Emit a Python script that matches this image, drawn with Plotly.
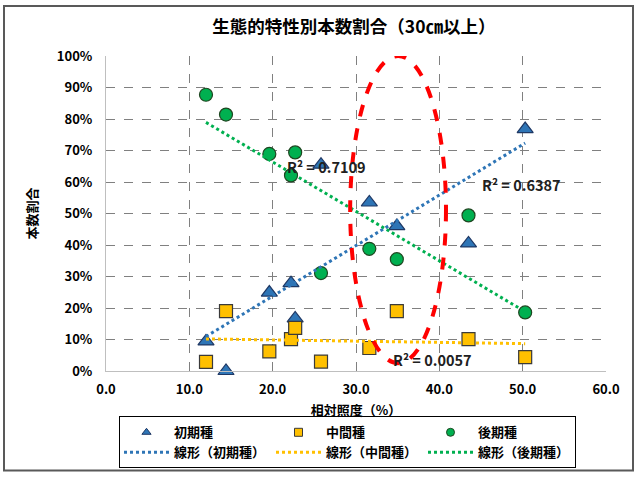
import numpy as np
import plotly.graph_objects as go

# ---- data ----
x_light = [12.0, 14.4, 19.6, 22.2, 22.7, 25.8, 31.6, 34.9, 43.5, 50.3]
early = [0.094, 0.000, 0.249, 0.279, 0.167, 0.655, 0.535, 0.460, 0.405, 0.768]
middle = [0.029, 0.190, 0.062, 0.101, 0.137, 0.030, 0.073, 0.190, 0.101, 0.044]
late = [0.877, 0.814, 0.689, 0.621, 0.694, 0.311, 0.388, 0.355, 0.494, 0.186]

names = ["初期種", "中間種", "後期種"]
trend_names = ["線形（初期種）", "線形（中間種）", "線形（後期種）"]
r2_labels = ["R² = 0.6387", "R² = 0.0057", "R² = 0.7109"]
r2_pos = [(49.9, 0.592), (39.2, 0.038), (26.5, 0.649)]

x_ticks = [0, 10, 20, 30, 40, 50, 60]
y_ticks = [i / 10 for i in range(11)]

FONT = "Noto Sans CJK JP"
fills = ["#2E75B6", "#FFC000", "#00B050"]
edges = ["#1F3864", "#3A3A3A", "#1E4620"]
symbols = ["triangle-up", "square", "circle"]
sizes = [14, 13, 13]

fig = go.Figure()
series = [early, middle, late]
for s, n, fc, ec, sym, sz in zip(series, names, fills, edges, symbols, sizes):
    fig.add_trace(go.Scatter(
        x=x_light, y=s, mode="markers", name=n, cliponaxis=False, showlegend=False,
        legendgroup=n,
        marker=dict(symbol=sym, size=sz, color=fc,
                    line=dict(color=ec, width=1.2)),
    ))

# legend-only entries with small symbols (as in the reference legend)
for n, fc, ec, sym in zip(names, fills, edges, symbols):
    fig.add_trace(go.Scatter(
        x=[None], y=[None], mode="markers", name=n, legendgroup=n,
        marker=dict(symbol=sym, size=8, color=fc, line=dict(color=ec, width=1)),
    ))

xs = np.array(x_light)
xfit = np.array([xs.min(), xs.max()])
for s, n, fc in zip(series, trend_names, fills):
    k, b = np.polyfit(xs, np.array(s), 1)
    fig.add_trace(go.Scatter(
        x=xfit, y=k * xfit + b, mode="lines", name=n,
        line=dict(color=fc, width=3, dash="dot"),
    ))

for t, (ax, ay) in zip(r2_labels, r2_pos):
    fig.add_annotation(x=ax, y=ay, text=t, showarrow=False,
                       font=dict(family=FONT, size=14.5, color="#202020", weight="bold"))

# red dashed ellipse
fig.add_shape(type="circle", xref="x", yref="y", x0=29.3, x1=40.8, y0=0.025, y1=1.0,
              line=dict(color="#FF0000", width=4, dash="dash"))

# outer chart border
fig.add_shape(type="rect", xref="paper", yref="paper", x0=-0.204, x1=1.054,
              y0=-0.316, y1=1.159, line=dict(color="#595959", width=2))

fig.update_layout(
    width=640, height=480,
    margin=dict(l=106, r=34, t=56, b=105),
    paper_bgcolor="white", plot_bgcolor="white",
    font=dict(family=FONT, size=13, color="#000000"),
    title=dict(text="<b>生態的特性別本数割合（30㎝以上）</b>", x=0.553, xanchor="center",
               y=0.944, yanchor="middle", font=dict(family=FONT, size=17.5, color="#000000")),
    xaxis=dict(range=[0, 60], tickvals=x_ticks, tickformat=".1f", automargin=False,
               showgrid=True, gridcolor="#808080", griddash="dash", gridwidth=1,
               showline=True, linecolor="#BFBFBF", zeroline=False, ticks="",
               ticklabelstandoff=6,
               tickfont=dict(family=FONT, size=13, weight="bold"),
               title=dict(text="<b>相対照度（%）</b>", standoff=9,
                          font=dict(family=FONT, size=13))),
    yaxis=dict(range=[0, 1], tickvals=y_ticks, tickformat=".0%", automargin=False,
               showgrid=True, gridcolor="#808080", griddash="dash", gridwidth=1,
               showline=True, linecolor="#BFBFBF", zeroline=False, ticks="",
               ticklabelstandoff=10,
               tickfont=dict(family=FONT, size=13, weight="bold"),
               title=dict(text="<b>本数割合</b>", standoff=16,
                          font=dict(family=FONT, size=13))),
    legend=dict(orientation="h", x=0.026, y=-0.144, xanchor="left", yanchor="top",
                bordercolor="#000000", borderwidth=1, entrywidth=92,
                font=dict(family=FONT, size=13, weight="bold"),
                itemwidth=45, tracegroupgap=0),
    showlegend=True,
)

fig.write_html("out.html", config={"displayModeBar": False},
               post_script="document.body.style.margin='0';")
